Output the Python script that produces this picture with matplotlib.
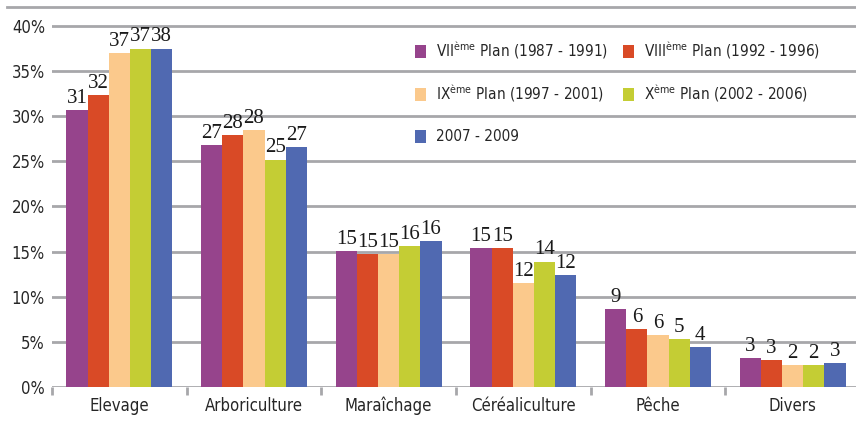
import numpy as np
import matplotlib
matplotlib.use("Agg")
import matplotlib.pyplot as plt
from matplotlib.lines import Line2D

categories = ["Elevage", "Arboriculture", "Maraîchage", "Céréaliculture", "Pêche", "Divers"]
series_names = [r"VII$^{\mathregular{ème}}$ Plan (1987 - 1991)",
                r"VIII$^{\mathregular{ème}}$ Plan (1992 - 1996)",
                r"IX$^{\mathregular{ème}}$ Plan (1997 - 2001)",
                r"X$^{\mathregular{ème}}$ Plan (2002 - 2006)",
                "2007 - 2009"]
plan_vii = [30.7, 26.8, 15.1, 15.4, 8.6, 3.2]
plan_viii = [32.3, 27.9, 14.7, 15.4, 6.4, 3.0]
plan_ix = [37.0, 28.5, 14.7, 11.5, 5.8, 2.4]
plan_x = [37.5, 25.2, 15.6, 13.9, 5.3, 2.4]
p2007 = [37.5, 26.6, 16.2, 12.4, 4.4, 2.7]
labels_vii = [31, 27, 15, 15, 9, 3]
labels_viii = [32, 28, 15, 15, 6, 3]
labels_ix = [37, 28, 15, 12, 6, 2]
labels_x = [37, 25, 16, 14, 5, 2]
labels_2007 = [38, 27, 16, 12, 4, 3]

series = [plan_vii, plan_viii, plan_ix, plan_x, p2007]
labels = [labels_vii, labels_viii, labels_ix, labels_x, labels_2007]
colors = ["#96448c", "#d94a26", "#fbc98c", "#c4cd34", "#5069b1"]

plt.rcParams['font.family'] = ['DejaVu Sans']
plt.rcParams['font.stretch'] = 'condensed'
plt.rcParams['mathtext.default'] = 'regular'
txt = "#262626"
grid_c = "#a7a7aa"

W, H = 856, 425
fig = plt.figure(figsize=(W / 100, H / 100), dpi=100)
ax = fig.add_axes([52 / W, 38 / H, 808 / W, 380 / H])

x = np.arange(len(categories))
bw = 0.157
bars = []
for i, (vals, lab, c) in enumerate(zip(series, labels, colors)):
    pos = x + (i - 2) * bw
    b = ax.bar(pos, vals, width=bw, color=c, zorder=2)
    bars.append(b)
    for px, v, l in zip(pos, vals, lab):
        ax.annotate(str(l), (px, v), xytext=(0, 1.5), textcoords="offset points",
                    ha="center", va="bottom", fontsize=15,
                    family="Liberation Serif", stretch="normal",
                    color="#1a1a1a", zorder=3)

ax.set_xlim(-0.5, 5.5)
ax.set_ylim(0, 42.1)
ax.set_yticks(np.arange(0, 41, 5))
ax.set_yticklabels([f"{v}%" for v in range(0, 41, 5)], fontsize=12, color=txt)
ax.yaxis.grid(True, color=grid_c, linewidth=2)
ax.set_axisbelow(True)
ax.tick_params(axis="y", length=0, pad=5)

ax.set_xticks(np.arange(-0.5, 6.0, 1.0))
ax.set_xticklabels([])
ax.set_xticks(x, minor=True)
ax.set_xticklabels(categories, minor=True, fontsize=12, color=txt)
ax.tick_params(axis="x", which="major", length=6, width=2, color=grid_c)
ax.tick_params(axis="x", which="minor", length=0, pad=7)

for s in ax.spines.values():
    s.set_visible(False)

fig.add_artist(Line2D([7 / W, 1], [418 / H, 418 / H], color=grid_c, linewidth=2))

leg_kw = dict(frameon=False, fontsize=11, handlelength=0.72, handleheight=0.95,
              handletextpad=0.65, columnspacing=1.0, labelspacing=1.4,
              borderaxespad=0, borderpad=0)
order = [0, 2, 1, 3]
leg1 = fig.legend([bars[i] for i in order], [series_names[i] for i in order],
                  ncol=2, loc="upper left", bbox_to_anchor=(415 / W, 1 - 40 / H), **leg_kw)
leg2 = fig.legend([bars[4]], [series_names[4]], loc="center left",
                  bbox_to_anchor=(415 / W, 1 - 137 / H), **leg_kw)
for leg in (leg1, leg2):
    for t in leg.get_texts():
        t.set_color(txt)

fig.savefig("out.png", dpi=100)
